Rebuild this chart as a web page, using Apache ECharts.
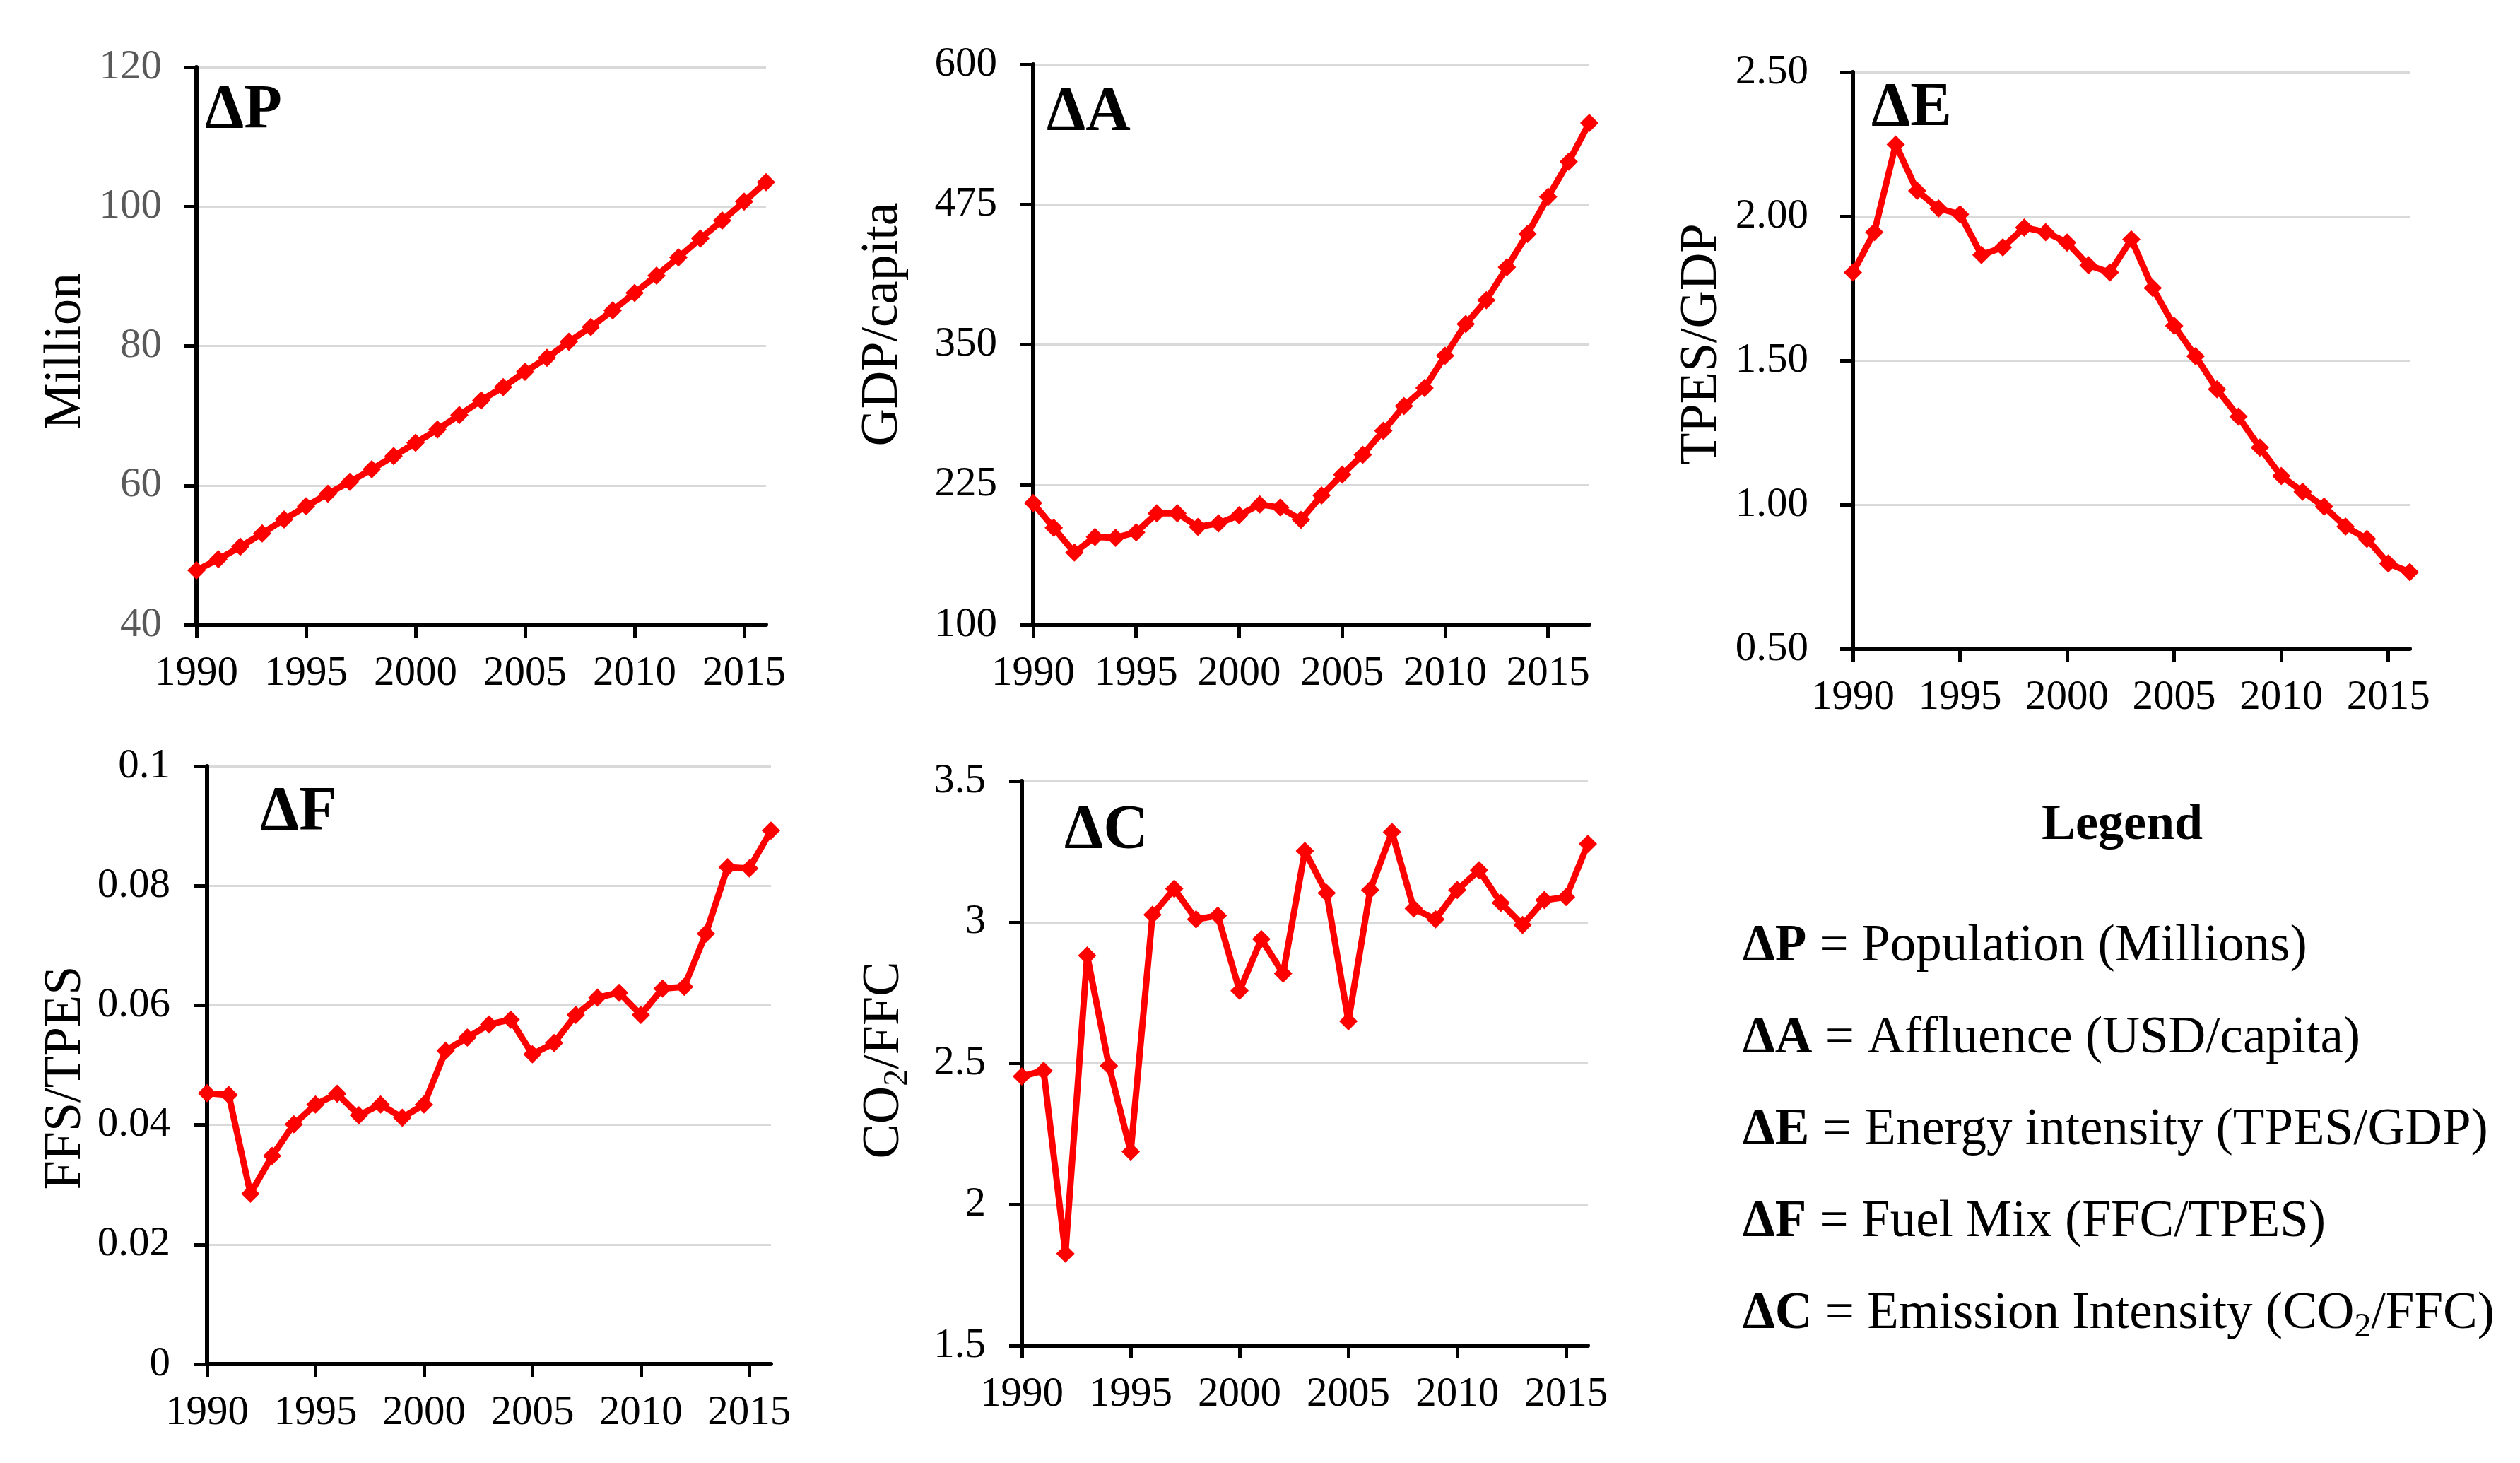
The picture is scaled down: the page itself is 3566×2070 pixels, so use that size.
<!DOCTYPE html>
<html>
<head>
<meta charset="utf-8">
<script src="https://cdn.jsdelivr.net/npm/echarts@6/dist/echarts.min.js"></script>
<style>
html,body{margin:0;padding:0;background:#fff;}
#c{width:3566px;height:2070px;}
</style>
</head>
<body>
<div id="c"></div>
<script>
// ---- data ----
const years = ['1990','1991','1992','1993','1994','1995','1996','1997','1998','1999','2000','2001','2002','2003','2004','2005','2006','2007','2008','2009','2010','2011','2012','2013','2014','2015','2016'];
const yearsA = ['1990','1991','1992','1993','1994','1995','1996','1997','1998','1999','2000','2001','2002','2003','2004','2005','2006','2007','2008','2009','2010','2011','2012','2013','2014','2015','2016','2017'];

const population = [47.8,49.4,51.2,53.1,55.1,57.0,58.8,60.5,62.3,64.2,66.1,68.0,70.1,72.2,74.1,76.3,78.3,80.6,82.7,85.1,87.6,90.1,92.7,95.4,98.0,100.7,103.5];
const affluence = [208.6,186.5,164.4,178.4,177.6,182.5,199.4,199.4,187.3,190.5,197.7,207.4,204.6,193.7,215.4,234.0,251.6,273.0,295.1,311.2,340.1,368.3,389.6,419.0,448.7,481.7,513.1,547.7];
const energyIntensity = [1.805,1.945,2.249,2.088,2.027,2.007,1.866,1.892,1.961,1.945,1.909,1.830,1.805,1.920,1.751,1.620,1.515,1.400,1.305,1.198,1.099,1.045,0.993,0.924,0.881,0.796,0.766];
const fuelMix = [0.0453,0.0450,0.0285,0.0348,0.0401,0.0434,0.0452,0.0416,0.0434,0.0412,0.0434,0.0524,0.0546,0.0568,0.0576,0.0518,0.0537,0.0584,0.0613,0.0621,0.0584,0.0628,0.0631,0.0720,0.0831,0.0829,0.0892];
const emissionIntensity = [2.454,2.474,1.826,2.882,2.491,2.187,3.026,3.118,3.010,3.023,2.757,2.940,2.818,3.252,3.103,2.649,3.114,3.319,3.048,3.010,3.114,3.184,3.068,2.990,3.078,3.089,3.277];

const panelLabels = ['\u0394P','\u0394A','\u0394E','\u0394F','\u0394C'];
const axisNames = ['Million','GDP/capita','TPES/GDP','FFS/TPES','{n|CO}{s|2}{n|/FFC}'];
const legendTitle = 'Legend';
const legendLines = [
  '{b|\u0394P} = Population (Millions)',
  '{b|\u0394A} = Affluence (USD/capita)',
  '{b|\u0394E} = Energy intensity (TPES/GDP)',
  '{b|\u0394F} = Fuel Mix (FFC/TPES)',
  '{b|\u0394C} = Emission Intensity (CO{s|2}/FFC)'
];

// ---- layout ----
const FONT = '"Liberation Serif","Times New Roman",serif';
const panels = [
  {cats: years,  data: population,        box:[278,95,806,789],   min:40,  max:120, interval:20,  fmt:null, labColor:'#595959', lm:49,
   lab:[290,157], name:[94,497]},
  {cats: yearsA, data: affluence,         box:[1462,91,787,793],  min:100, max:600, interval:125, fmt:null, labColor:'#000', lm:51,
   lab:[1481,160], name:[1250,459]},
  {cats: years,  data: energyIntensity,   box:[2622,102,788,816], min:0.5, max:2.5, interval:0.5, fmt:function(v){return v.toFixed(2);}, labColor:'#000', lm:63,
   lab:[2648,154], name:[2409,487]},
  {cats: years,  data: fuelMix,           box:[293,1084,798,846], min:0,   max:0.1, interval:0.02, fmt:null, labColor:'#000', lm:52,
   lab:[368,1150], name:[94,1525]},
  {cats: years,  data: emissionIntensity, box:[1446,1105,801,799], min:1.5, max:3.5, interval:0.5, fmt:null, labColor:'#000', lm:51,
   lab:[1506,1176], name:[1252,1500]}
];

const every5 = function(index, value){ return (Number(value) - 1990) % 5 === 0; };

const grid = [], xAxis = [], yAxis = [], series = [], graphic = [];
panels.forEach(function(p, i){
  grid.push({left:p.box[0], top:p.box[1], width:p.box[2], height:p.box[3], containLabel:false});
  xAxis.push({
    type:'category', gridIndex:i, data:p.cats, boundaryGap:false,
    axisLine:{show:true, onZero:false, lineStyle:{color:'#000', width:6}},
    axisTick:{show:true, interval:every5, length:18, lineStyle:{color:'#000', width:5}},
    axisLabel:{interval:every5, fontSize:59, fontFamily:FONT, color:'#000', margin:40},
    splitLine:{show:false}
  });
  const yl = {fontSize:59, fontFamily:FONT, color:p.labColor, margin:p.lm};
  if (p.fmt) yl.formatter = p.fmt;
  yAxis.push({
    type:'value', gridIndex:i, min:p.min, max:p.max, interval:p.interval,
    axisLine:{show:true, lineStyle:{color:'#000', width:6}},
    axisTick:{show:true, length:18, lineStyle:{color:'#000', width:5}},
    axisLabel:yl,
    splitLine:{show:true, lineStyle:{color:'#d9d9d9', width:3}}
  });
  series.push({
    type:'line', xAxisIndex:i, yAxisIndex:i, data:p.data,
    symbol:'diamond', symbolSize:26, showSymbol:true, showAllSymbol:true, clip:false, z:5,
    lineStyle:{color:'#ff0000', width:9},
    itemStyle:{color:'#ff0000'}
  });
  graphic.push({
    type:'text', x:p.lab[0], y:p.lab[1], z:10,
    style:{text:panelLabels[i], fontSize:88, fontWeight:'bold', fontFamily:FONT, fill:'#000',
      align:'left', verticalAlign:'middle', textAlign:'left', textVerticalAlign:'middle'}
  });
  graphic.push({
    type:'text', x:p.name[0], y:p.name[1], rotation:Math.PI/2, z:10,
    style:{text:axisNames[i], fontSize:74, fontFamily:FONT, fill:'#000',
      align:'center', verticalAlign:'middle', textAlign:'center', textVerticalAlign:'middle',
      rich:{
        n:{fontSize:74, fontFamily:FONT, fill:'#000', lineHeight:84},
        s:{fontSize:48, fontFamily:FONT, fill:'#000', lineHeight:48, verticalAlign:'bottom'}
      }}
  });
});

graphic.push({
  type:'text', x:3003, y:1168, z:10,
  style:{text:legendTitle, fontSize:72, fontWeight:'bold', fontFamily:FONT, fill:'#000',
    align:'center', verticalAlign:'middle', textAlign:'center', textVerticalAlign:'middle'}
});
legendLines.forEach(function(t, k){
  graphic.push({
    type:'text', x:2466, y:1340 + 130*k, z:10,
    style:{text:t, fontSize:73, fontFamily:FONT, fill:'#000',
      align:'left', verticalAlign:'middle', textAlign:'left', textVerticalAlign:'middle',
      rich:{
        b:{fontSize:73, fontWeight:'bold', fontFamily:FONT, fill:'#000', lineHeight:84},
        s:{fontSize:48, fontFamily:FONT, fill:'#000', lineHeight:48, verticalAlign:'bottom'}
      }}
  });
});

const chart = echarts.init(document.getElementById('c'), null, {renderer:'canvas'});
chart.setOption({
  backgroundColor:'#ffffff',
  animation:false,
  grid: grid, xAxis: xAxis, yAxis: yAxis, series: series, graphic: graphic
});
</script>
</body>
</html>
